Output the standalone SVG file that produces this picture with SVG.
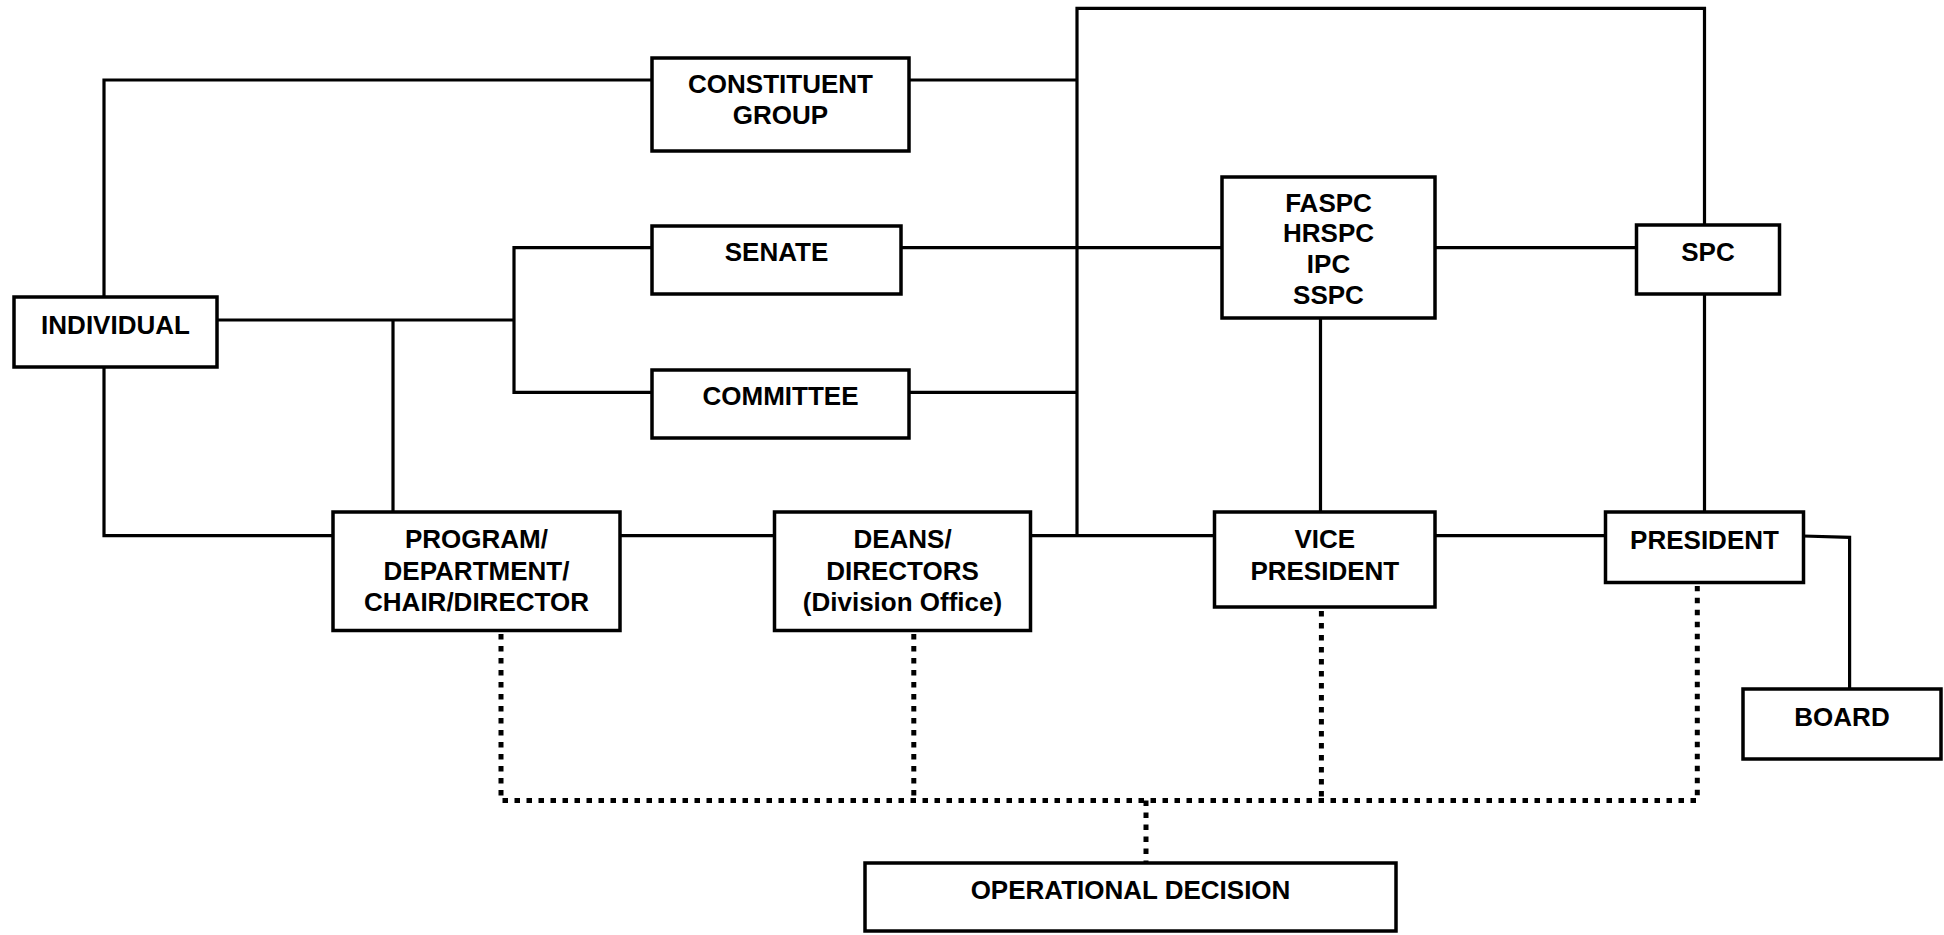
<svg xmlns="http://www.w3.org/2000/svg" width="1944" height="935" viewBox="0 0 1944 935">
<style>
.box{fill:#fff;stroke:#000;stroke-width:3.5}
.ln{fill:none;stroke:#000;stroke-width:3.2}
.dot{fill:none;stroke:#000;stroke-width:5;stroke-dasharray:5.5 6.5}
text{font-family:"Liberation Sans",Arial,sans-serif;font-weight:bold;font-size:26px;text-anchor:middle;fill:#000}
</style>
<rect width="1944" height="935" fill="#fff"/>
<g id="connectors">
<path class="ln" d="M104,297 V80 H652"/>
<path class="ln" d="M104,367 V535.7 H333"/>
<path class="ln" d="M217,320 H514"/>
<path class="ln" d="M393,320 V512"/>
<path class="ln" d="M652,247.7 H514 V392.3 H652"/>
<path class="ln" d="M909,80 H1077"/>
<path class="ln" d="M901,247.7 H1222"/>
<path class="ln" d="M909,392.3 H1077"/>
<path class="ln" d="M1077,535.7 V8.3 H1704.5 V225"/>
<path class="ln" d="M1435,247.7 H1636.5"/>
<path class="ln" d="M1320.5,318 V512"/>
<path class="ln" d="M1704.5,294 V512"/>
<path class="ln" d="M620,535.7 H774.5"/>
<path class="ln" d="M1030,535.7 H1214.5"/>
<path class="ln" d="M1435,535.7 H1605.5"/>
<path class="ln" d="M1803,536 L1849.6,537.3 V689"/>
<path class="dot" d="M501,634 V800.5 H1697.3 V586"/>
<path class="dot" d="M913.8,634 V800.5"/>
<path class="dot" d="M1321.4,611 V800.5"/>
<path class="dot" d="M1146,800.5 V863"/>
</g>
<g id="individual"><rect class="box" x="14" y="297" width="203" height="70"/><text x="115.5" y="333.5">INDIVIDUAL</text></g>
<g id="constituent-group"><rect class="box" x="652" y="58" width="257" height="93"/><text x="780.5" y="92.5">CONSTITUENT</text><text x="780.5" y="124">GROUP</text></g>
<g id="senate"><rect class="box" x="652" y="226" width="249" height="68"/><text x="776.5" y="260.5">SENATE</text></g>
<g id="committee"><rect class="box" x="652" y="370" width="257" height="68"/><text x="780.5" y="405">COMMITTEE</text></g>
<g id="faspc"><rect class="box" x="1222" y="177" width="213" height="141"/><text x="1328.5" y="211.5">FASPC</text><text x="1328.5" y="242.3">HRSPC</text><text x="1328.5" y="273.2">IPC</text><text x="1328.5" y="303.5">SSPC</text></g>
<g id="spc"><rect class="box" x="1636.5" y="225" width="143" height="69"/><text x="1708" y="260.5">SPC</text></g>
<g id="program"><rect class="box" x="333" y="512" width="287" height="118.5"/><text x="476.5" y="548.3">PROGRAM/</text><text x="476.5" y="579.5">DEPARTMENT/</text><text x="476.5" y="611">CHAIR/DIRECTOR</text></g>
<g id="deans"><rect class="box" x="774.5" y="512" width="256" height="118.5"/><text x="902.5" y="548.3">DEANS/</text><text x="902.5" y="579.5">DIRECTORS</text><text x="902.5" y="611">(Division Office)</text></g>
<g id="vice-president"><rect class="box" x="1214.5" y="512" width="220.5" height="95"/><text x="1324.8" y="548.3">VICE</text><text x="1324.8" y="579.8">PRESIDENT</text></g>
<g id="president"><rect class="box" x="1605.5" y="512" width="198" height="70.5"/><text x="1704.5" y="549">PRESIDENT</text></g>
<g id="board"><rect class="box" x="1743" y="689" width="198" height="70"/><text x="1842" y="725.5">BOARD</text></g>
<g id="operational-decision"><rect class="box" x="865" y="863" width="531" height="68"/><text x="1130.5" y="899">OPERATIONAL DECISION</text></g>
</svg>
